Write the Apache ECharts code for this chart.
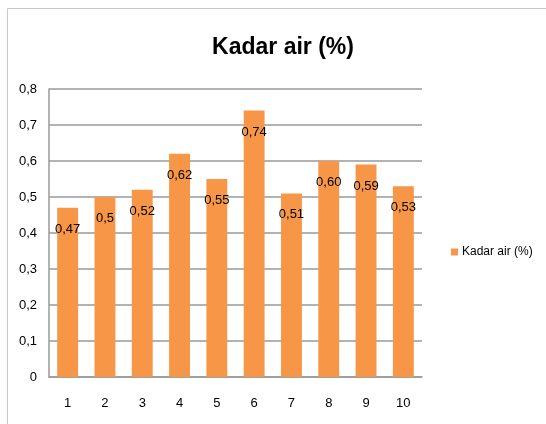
<!DOCTYPE html>
<html>
<head>
<meta charset="utf-8">
<script src="https://cdn.jsdelivr.net/npm/echarts@6/dist/echarts.min.js"></script>
<style>
html,body{margin:0;padding:0;background:#fff;}
#chart{width:546px;height:424px;}
</style>
</head>
<body>
<div id="chart"></div>
<script>
const titleText = 'Kadar air (%)';
const seriesName = 'Kadar air (%)';
const categories = ['1','2','3','4','5','6','7','8','9','10'];
const values = [0.47, 0.50, 0.52, 0.62, 0.55, 0.74, 0.51, 0.60, 0.59, 0.53];
const valueLabels = ['0,47','0,5','0,52','0,62','0,55','0,74','0,51','0,60','0,59','0,53'];
const yTickLabels = ['0','0,1','0,2','0,3','0,4','0,5','0,6','0,7','0,8'];

const chart = echarts.init(document.getElementById('chart'), null, {renderer:'canvas'});
const font = 'Liberation Sans, Arial, sans-serif';
chart.setOption({
  animation: false,
  backgroundColor: '#ffffff',
  textStyle: {fontFamily: font},
  graphic: [{
    type: 'rect',
    shape: {x: 7.5, y: 8.5, width: 600, height: 500},
    style: {fill: 'none', stroke: '#c8c8c8', lineWidth: 1},
    silent: true, z: -1
  }],
  title: {
    text: titleText,
    left: 278, top: 31, textAlign: 'center',
    textStyle: {fontFamily: font, fontWeight: 'bold', fontSize: 23, color: '#000'}
  },
  legend: {
    data: [seriesName],
    left: 446, top: 241,
    icon: 'rect', itemWidth: 7, itemHeight: 7, itemGap: 4,
    textStyle: {fontFamily: font, fontSize: 12, color: '#000', padding: [0,0,0,-1]}
  },
  grid: {left: 49, right: 124, top: 89, bottom: 47, containLabel: false},
  xAxis: {
    type: 'category',
    data: categories,
    axisLine: {show: true, lineStyle: {color: '#999', width: 1.5}},
    axisTick: {show: false},
    axisLabel: {color: '#000', fontSize: 13, margin: 20, fontFamily: font},
    splitLine: {show: false}
  },
  yAxis: {
    type: 'value',
    min: 0, max: 0.8, interval: 0.1,
    axisLine: {show: true, lineStyle: {color: '#999', width: 1.5}},
    axisTick: {show: false},
    axisLabel: {
      color: '#000', fontSize: 13, margin: 12, fontFamily: font,
      formatter: function (v) { return yTickLabels[Math.round(v * 10)]; }
    },
    splitLine: {show: true, lineStyle: {color: '#999', width: 1.5}}
  },
  series: [{
    name: seriesName,
    type: 'bar',
    data: values,
    barCategoryGap: '44%',
    itemStyle: {color: '#F79646'},
    label: {
      show: true, position: 'insideTop', distance: 15,
      color: '#000', fontSize: 13, fontFamily: font,
      formatter: function (p) { return valueLabels[p.dataIndex]; }
    }
  }]
});
</script>
</body>
</html>
